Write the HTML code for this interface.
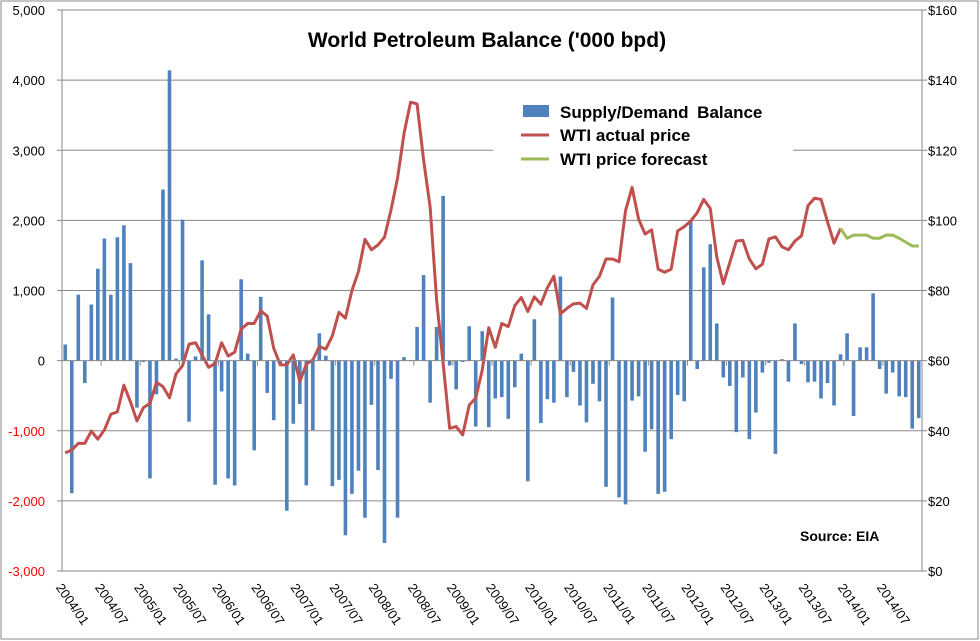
<!DOCTYPE html>
<html><head><meta charset="utf-8"><style>
html,body{margin:0;padding:0;background:#fff;}
svg{display:block;font-family:"Liberation Sans",sans-serif;}
</style></head><body>
<svg id="chart" width="980" height="641" viewBox="0 0 980 641" xmlns="http://www.w3.org/2000/svg">
<rect x="1" y="1" width="977" height="638" fill="#fff" stroke="#888" stroke-width="1"/>
<g id="grid"></g>
<g id="bars"></g>
<g id="lines"></g>
<g id="axes"></g>
<g id="legend">
<rect x="493" y="92" width="300" height="82" fill="#fff"/>
<rect x="523" y="105" width="26" height="12" fill="#4f81bd"/>
<text x="560" y="118" font-size="17" font-weight="bold" word-spacing="4">Supply/Demand  Balance</text>
<line x1="521" y1="135" x2="549" y2="135" stroke="#c0504d" stroke-width="3"/>
<text x="560" y="141" font-size="17" font-weight="bold">WTI actual price</text>
<line x1="521" y1="159" x2="549" y2="159" stroke="#9bbb59" stroke-width="3"/>
<text x="560" y="165" font-size="17" font-weight="bold">WTI price forecast</text>
</g>
<text x="487" y="47" font-size="21" font-weight="bold" text-anchor="middle">World Petroleum Balance ('000 bpd)</text>
<text x="800" y="541" font-size="14" font-weight="bold">Source: EIA</text>
</svg>
<script>
const balance = [230,-1890,940,-320,800,1310,1740,940,1760,1930,1390,-670,
-20,-1680,-480,2440,4140,30,2010,-870,60,1430,660,-1770,
-440,-1680,-1780,1160,100,-1280,910,-460,-850,-50,-2140,-900,
-620,-1780,-990,390,70,-1790,-1700,-2490,-1900,-1570,-2240,-630,
-1560,-2600,-260,-2240,50,10,480,1220,-600,480,2350,-70,
-410,-20,490,-940,420,-950,-540,-520,-830,-380,100,-1720,
590,-890,-550,-600,1200,-520,-160,-640,-880,-330,-580,-1800,
900,-1950,-2050,-570,-510,-1300,-980,-1900,-1870,-1120,-490,-580,
2000,-120,1330,1660,530,-240,-360,-1020,-240,-1120,-740,-170,
-30,-1330,20,-300,530,-50,-310,-300,-540,-320,-640,90,
390,-790,190,190,960,-120,-470,-170,-510,-520,-970,-820];
const actualPrice = [33.7,34.5,36.4,36.4,39.9,37.6,40.2,44.7,45.4,53,48.3,42.8,
46.6,47.8,53.8,52.6,49.4,56.2,58.6,64.7,65.1,61.6,58.1,59.2,
65.1,61.3,62.4,69,70.6,70.6,74.2,72.7,63.5,58.8,58.8,61.6,
54,59,60.2,64,63.3,67.1,73.8,72.1,80,85.4,94.6,91.6,
93,95.2,103,112,124.8,133.7,133.2,117.2,103.9,77.3,59.2,40.7,
41.2,38.8,47.3,49.3,57.3,69.4,63.8,70.6,69.7,75.7,78,74,
78.2,76.1,80.8,84.1,73.3,74.9,76.2,76.4,74.9,81.6,84.1,89,
89,88.2,102.8,109.4,100.4,96.1,97.3,86.1,85.2,86.1,97,98.2,
99.8,102.2,106,103.4,89.6,81.9,88,94.1,94.3,89,86.2,87.5,
94.7,95.3,92.5,91.6,94.1,95.6,104.2,106.3,106,99.6,93.5,97.7];
const forecastStart = 119;
const forecastPrice = [97.7,94.9,95.8,95.8,95.8,94.9,94.9,95.8,95.8,94.9,93.8,92.7,92.7];
const leftTicks = [5000,4000,3000,2000,1000,0,-1000,-2000,-3000];
const rightTicks = [160,140,120,100,80,60,40,20,0];
const startYear = 2004;

const NS="http://www.w3.org/2000/svg";
const L=62,R=922,T=10,B=571,N=132;
const bw=(R-L)/N;
const xC=i=>L+bw*(i+0.5);
const yL=v=>T+(5000-v)/8000*(B-T);
const yR=v=>T+(160-v)/160*(B-T);
function mk(tag,attrs,parent){const e=document.createElementNS(NS,tag);for(const k in attrs)e.setAttribute(k,attrs[k]);parent.appendChild(e);return e;}
const grid=document.getElementById('grid'),bars=document.getElementById('bars'),lines=document.getElementById('lines'),axes=document.getElementById('axes');
leftTicks.forEach(v=>{
  if(v!==0&&v!==-3000){const g=mk('line',{x1:L,x2:R,y1:yL(v),y2:yL(v),stroke:'#888','stroke-width':1},grid);
  
  }
  const t=mk('text',{x:45,y:yL(v)+5,'font-size':13,'text-anchor':'end',fill:v<0?'#ff0000':'#000'},axes);
  t.textContent=v.toLocaleString('en-US');
  
  
  const tk=mk('line',{x1:L-5,x2:L,y1:yL(v),y2:yL(v),stroke:'#888'},axes);
  
  
});
rightTicks.forEach(v=>{
  const t=mk('text',{x:928,y:yR(v)+5,'font-size':13},axes);
  t.textContent='$'+v;
  
  
  const tk=mk('line',{x1:R,x2:R+5,y1:yR(v),y2:yR(v),stroke:'#888'},axes);
  
  
});
balance.forEach((v,i)=>{
  const y0=yL(0),y1=yL(v);
  const r=mk('rect',{x:xC(i)-1.8,width:3.6,y:Math.min(y0,y1),height:Math.max(0.5,Math.abs(y1-y0)),fill:'#4f81bd'},bars);
  
  
});
const ax=[['y-axis-left',L,T,L,B],['y-axis-right',R,T,R,B],['x-axis-bottom',L,B,R,B],['zero-line',L,yL(0),R,yL(0)]];
ax.forEach(a=>{const l=mk('line',{x1:a[1],y1:a[2],x2:a[3],y2:a[4],stroke:'#888','stroke-width':1},axes);
  
  });
for(let i=0;i<=N;i+=6){
  const tk=mk('line',{x1:L+bw*i,x2:L+bw*i,y1:yL(0),y2:yL(0)+5,stroke:'#888'},axes);
  
  
}
for(let i=0;i<N;i+=6){
  const yr=startYear+Math.floor(i/12),m=(i%12)+1;
  const x=xC(i)-2,y=582;
  const t=mk('text',{x:x,y:y,'font-size':13,transform:`rotate(55 ${x} ${y})`,'dominant-baseline':'hanging'},axes);
  t.textContent=yr+'/'+(m<10?'0'+m:m);
  
  
}
const p1=mk('polyline',{points:actualPrice.map((v,i)=>xC(i)+','+yR(v)).join(' '),fill:'none',stroke:'#c0504d','stroke-width':3,'stroke-linejoin':'round'},lines);


const p2=mk('polyline',{points:forecastPrice.map((v,i)=>xC(i+forecastStart)+','+yR(v)).join(' '),fill:'none',stroke:'#9bbb59','stroke-width':3,'stroke-linejoin':'round'},lines);


</script>
</body></html>
